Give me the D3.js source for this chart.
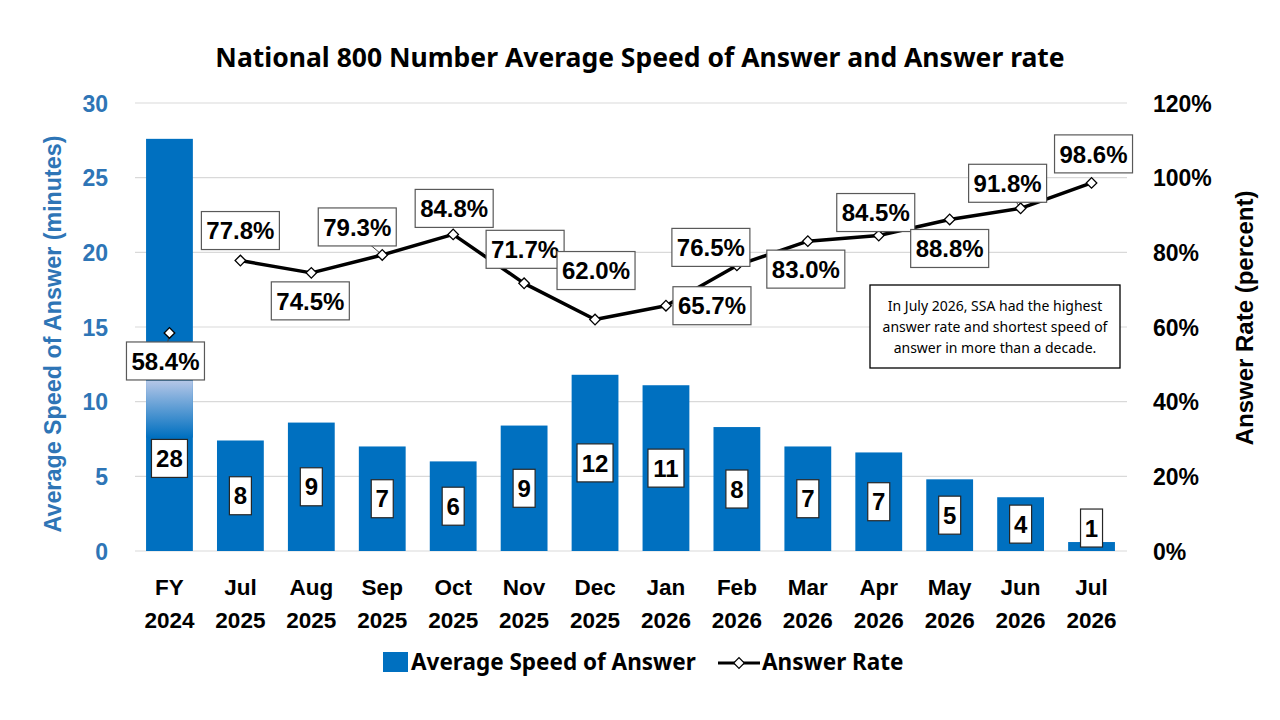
<!DOCTYPE html>
<html><head><meta charset="utf-8">
<script src="https://cdn.jsdelivr.net/npm/d3@7"></script>
<style>body{margin:0;background:#fff}svg{display:block}</style>
</head><body><svg id="c" width="1280" height="720"></svg>
<script>
const categories = [["FY","2024"],["Jul","2025"],["Aug","2025"],["Sep","2025"],["Oct","2025"],["Nov","2025"],["Dec","2025"],["Jan","2026"],["Feb","2026"],["Mar","2026"],["Apr","2026"],["May","2026"],["Jun","2026"],["Jul","2026"]];
const speedValues = [27.6,7.4,8.6,7.0,6.0,8.4,11.8,11.1,8.3,7.0,6.6,4.8,3.6,0.6];
const speedLabels = ["28","8","9","7","6","9","12","11","8","7","7","5","4","1"];
const rateValues = [58.4,77.8,74.5,79.3,84.8,71.7,62.0,65.7,76.5,83.0,84.5,88.8,91.8,98.6];
const leftTicks = [0,5,10,15,20,25,30];
const rightTicks = [0,20,40,60,80,100,120];
// label placement offsets (px) relative to the marker
const rateLabelOffsets = [[-4,28],[0,-30],[-1,28],[-25,-28],[1,-26],[1,-34],[1,-49],[46,0],[-26,-18],[-2,28],[-3,-23],[0,29],[-13,-25],[2,-29]];
const rateLeader = [true,false,false,true,false,false,false,false,true,false,false,false,true,false];

const svg = d3.select("#c");
const FONT = "'Liberation Sans', Arial, sans-serif";
const TFONT = "'Noto Sans', 'Open Sans', sans-serif";
const blue = "#0070C0", axisBlue = "#2E75B6";
const L = 134, R = 1127, T = 103, B = 551;

const x = d3.scaleBand().domain(d3.range(categories.length)).range([L, R]).paddingInner(0.34).paddingOuter(0.17);
const yL = d3.scaleLinear().domain([0,30]).range([B,T]);
const yR = d3.scaleLinear().domain([0,120]).range([B,T]);

// title
svg.append("text").attr("x",640).attr("y",67).attr("text-anchor","middle")
  .attr("font-family",TFONT).attr("font-weight",700).attr("font-size",26.5).attr("fill","#000")
  .text("National 800 Number Average Speed of Answer and Answer rate");

// gridlines
svg.append("g").selectAll("line").data(leftTicks).join("line")
  .attr("x1",L+1).attr("x2",R).attr("y1",d=>yL(d)).attr("y2",d=>yL(d))
  .attr("stroke","#d9d9d9").attr("stroke-width",1.2);

// left axis
const gl = svg.append("g").attr("transform",`translate(108,0)`)
  .call(d3.axisLeft(yL).tickValues(leftTicks).tickSize(0).tickPadding(0));
gl.select(".domain").remove();
gl.selectAll("text").attr("font-family",FONT).attr("font-weight",700).attr("font-size",23).attr("fill",axisBlue).attr("dy","0.35em").attr("x",0);

// right axis
const gr = svg.append("g").attr("transform",`translate(1153,0)`)
  .call(d3.axisRight(yR).tickValues(rightTicks).tickSize(0).tickPadding(0).tickFormat(d=>d+"%"));
gr.select(".domain").remove();
gr.selectAll("text").attr("font-family",FONT).attr("font-weight",700).attr("font-size",23).attr("fill","#000").attr("dy","0.35em").attr("x",0);

// axis titles
svg.append("text").attr("transform",`translate(61,${(T+B)/2+7}) rotate(-90)`).attr("text-anchor","middle")
  .attr("font-family",FONT).attr("font-weight",700).attr("font-size",23.3).attr("fill",axisBlue)
  .text("Average Speed of Answer (minutes)");
svg.append("text").attr("transform",`translate(1253,${(T+B)/2-9}) rotate(-90)`).attr("text-anchor","middle")
  .attr("font-family",FONT).attr("font-weight",700).attr("font-size",24).attr("fill","#000")
  .text("Answer Rate (percent)");

// gradient def for FY bar fade
const defs = svg.append("defs");
const grad = defs.append("linearGradient").attr("id","fade").attr("x1",0).attr("x2",0).attr("y1",0).attr("y2",1);
grad.append("stop").attr("offset","0%").attr("stop-color","#b4c6e7");
grad.append("stop").attr("offset","100%").attr("stop-color",blue);

// bars
svg.append("g").selectAll("rect").data(speedValues).join("rect")
  .attr("x",(d,i)=>x(i)).attr("width",x.bandwidth())
  .attr("y",d=>yL(d)).attr("height",d=>B-yL(d)).attr("fill",blue);
// fade strip on first bar
svg.append("rect").attr("x",x(0)).attr("width",x.bandwidth())
  .attr("y",yL(11.4)).attr("height",yL(7.6)-yL(11.4)).attr("fill","url(#fade)");

// bar labels
const bl = svg.append("g").selectAll("g").data(speedValues).join("g")
  .attr("transform",(d,i)=>{
    const cx = x(i)+x.bandwidth()/2;
    let cy = (yL(d)+B)/2;
    if (i===0) cy = yL(6.2);
    if (d < 2) cy = yL(d)-14;
    return `translate(${cx},${cy})`;
  });
bl.each(function(d,i){
  const g = d3.select(this);
  const w = speedLabels[i].length>1 ? 36 : 22;
  g.append("rect").attr("x",-w/2).attr("y",-19).attr("width",w).attr("height",38)
    .attr("fill","#fff").attr("stroke","#262626").attr("stroke-width",1.2);
  g.append("text").attr("text-anchor","middle").attr("dy","0.36em")
    .attr("font-family",FONT).attr("font-weight",700).attr("font-size",24).attr("fill","#000")
    .text(speedLabels[i]);
});

// line (FY 2024 is a separate, unconnected point)
const cxOf = i => x(i)+x.bandwidth()/2;
const line = d3.line().defined((d,i)=>i>0).x((d,i)=>cxOf(i)).y(d=>yR(d));
// leader lines
svg.append("g").selectAll("line").data(rateValues.map((v,i)=>i).filter(i=>rateLeader[i])).join("line")
  .attr("x1",i=>cxOf(i)).attr("y1",i=>yR(rateValues[i]))
  .attr("x2",i=>cxOf(i)+rateLabelOffsets[i][0]*0.6).attr("y2",i=>yR(rateValues[i])+rateLabelOffsets[i][1]*0.45)
  .attr("stroke","#404040").attr("stroke-width",1);
svg.append("path").datum(rateValues).attr("d",line).attr("fill","none").attr("stroke","#000").attr("stroke-width",3.5).attr("stroke-linejoin","round");
const sym = d3.symbol().type(d3.symbolSquare).size(56);
svg.append("g").selectAll("path").data(rateValues).join("path")
  .attr("transform",(d,i)=>`translate(${cxOf(i)},${yR(d)}) rotate(45)`)
  .attr("d",sym).attr("fill","#fff").attr("stroke","#000").attr("stroke-width",1.3);

// rate labels
const rl = svg.append("g").selectAll("g").data(rateValues).join("g")
  .attr("transform",(d,i)=>`translate(${cxOf(i)+rateLabelOffsets[i][0]},${yR(d)+rateLabelOffsets[i][1]})`);
rl.append("rect").attr("x",-39).attr("y",-19).attr("width",78).attr("height",38)
  .attr("fill","#fff").attr("stroke","#595959").attr("stroke-width",1.2);
rl.append("text").attr("text-anchor","middle").attr("dy","0.36em")
  .attr("font-family",FONT).attr("font-weight",700).attr("font-size",24).attr("fill","#000")
  .text(d=>d.toFixed(1)+"%");

// x labels
const xl = svg.append("g").selectAll("text").data(categories).join("text")
  .attr("x",(d,i)=>cxOf(i)).attr("text-anchor","middle")
  .attr("font-family",FONT).attr("font-weight",700).attr("font-size",22.5).attr("fill","#000");
xl.append("tspan").attr("x",(d,i)=>cxOf(i)).attr("y",595).text(d=>d[0]);
xl.append("tspan").attr("x",(d,i)=>cxOf(i)).attr("y",628).text(d=>d[1]);

// annotation
const ann = svg.append("g");
ann.append("rect").attr("x",870).attr("y",285).attr("width",250).attr("height",83).attr("fill","#fff").attr("stroke","#000").attr("stroke-width",1.3);
["In July 2026, SSA had the highest","answer rate and shortest speed of","answer in more than a decade."].forEach((t,k)=>{
  ann.append("text").attr("x",995).attr("y",311+k*21).attr("text-anchor","middle")
    .attr("font-family",TFONT).attr("font-size",14).attr("fill","#000").text(t);
});

// legend
const lg = svg.append("g");
lg.append("rect").attr("x",383).attr("y",652).attr("width",25).attr("height",20).attr("fill",blue);
lg.append("text").attr("x",411).attr("y",670).attr("font-family",TFONT).attr("font-weight",700).attr("font-size",22.5).attr("fill","#000").text("Average Speed of Answer");
lg.append("line").attr("x1",718).attr("x2",760).attr("y1",663).attr("y2",663).attr("stroke","#000").attr("stroke-width",3);
lg.append("path").attr("transform","translate(739,663) rotate(45)").attr("d",sym).attr("fill","#fff").attr("stroke","#000").attr("stroke-width",1.2);
lg.append("text").attr("x",762).attr("y",670).attr("font-family",TFONT).attr("font-weight",700).attr("font-size",22.5).attr("fill","#000").text("Answer Rate");
</script></body></html>
